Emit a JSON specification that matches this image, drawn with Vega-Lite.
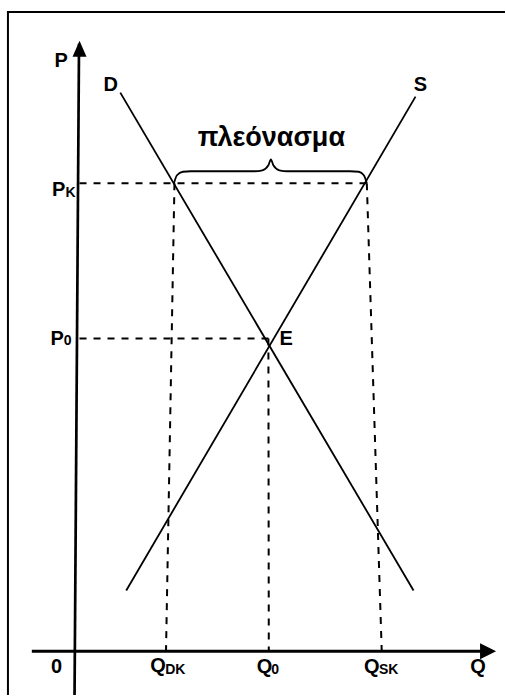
{
  "$schema": "https://vega.github.io/schema/vega-lite/v6.json",
  "width": 506,
  "height": 697,
  "autosize": {"type": "fit", "contains": "padding"},
  "padding": 0,
  "background": "white",
  "view": {"stroke": null},
  "config": {"text": {"font": "Liberation Sans", "fontWeight": "bold", "color": "black"}},
  "datasets": {
    "frame": [
      {"q1": -17, "p1": -11, "q2": -17, "p2": 160.5},
      {"q1": -17.25, "p1": 160.5, "q2": 108, "p2": 160.5}
    ],
    "yaxis": [{"q1": 0.875, "p1": 152.5, "q2": -0.25, "p2": -11}],
    "xaxis": [{"q1": -11, "p1": 0, "q2": 103, "p2": 0}],
    "curves": [
      {"name": "D", "q1": 11.25, "p1": 140.25, "q2": 85, "p2": 15.25},
      {"name": "S", "q1": 12.75, "p1": 15.25, "q2": 85.5, "p2": 139.25}
    ],
    "guides": [
      {"name": "PK", "q1": 1, "p1": 117.5, "q2": 73.25, "p2": 117.5},
      {"name": "P0", "q1": 1, "p1": 78.5, "q2": 48.5, "p2": 78.5},
      {"name": "QDK", "q1": 24.875, "p1": 117.5, "q2": 22.75, "p2": 0},
      {"name": "Q0", "q1": 48.5, "p1": 78.5, "q2": 48.6, "p2": 0},
      {"name": "QSK", "q1": 73.25, "p1": 117.5, "q2": 77, "p2": 0}
    ],
    "arrows": [
      {"dir": "up", "q": 1, "p": 151.25},
      {"dir": "right", "q": 103.75, "p": 0}
    ],
    "brace": [
      {"q": 24.75, "p": 117.5},
      {"q": 25.5, "p": 119.5},
      {"q": 27, "p": 120.375},
      {"q": 29, "p": 120.5},
      {"q": 45, "p": 120.5},
      {"q": 47, "p": 120.75},
      {"q": 48.5, "p": 122},
      {"q": 49.125, "p": 123.5},
      {"q": 49.75, "p": 122},
      {"q": 51.25, "p": 120.75},
      {"q": 53.25, "p": 120.5},
      {"q": 69, "p": 120.5},
      {"q": 71.25, "p": 120.375},
      {"q": 72.5, "p": 119.5},
      {"q": 73.25, "p": 117.5}
    ],
    "labels": [
      {"t": "P", "q": -3.625, "p": 146.75},
      {"t": "D", "q": 8.875, "p": 140.75},
      {"t": "S", "q": 86.75, "p": 140.75},
      {"t": "E", "q": 53, "p": 77},
      {"t": "P", "q": -4.25, "p": 114.25},
      {"t": "P", "q": -4.625, "p": 77},
      {"t": "0", "q": -4.75, "p": -5.5},
      {"t": "Q", "q": 20.75, "p": -5.25},
      {"t": "Q", "q": 47.5, "p": -5.5},
      {"t": "Q", "q": 74.5, "p": -5.5},
      {"t": "Q", "q": 101.25, "p": -5.5}
    ],
    "subs": [
      {"t": "K", "q": -1.25, "p": 114},
      {"t": "0", "q": -2, "p": 77},
      {"t": "DK", "q": 25.1, "p": -5.75},
      {"t": "0", "q": 50.2, "p": -5.75},
      {"t": "SK", "q": 78.75, "p": -5.75}
    ],
    "title": [{"t": "πλεόνασμα", "q": 49.25, "p": 126.75}]
  },
  "layer": [
    {
      "data": {"name": "frame"},
      "mark": {"type": "rule", "color": "black", "strokeWidth": 2},
      "encoding": {
        "x": {"field": "q1", "type": "quantitative", "scale": {"domain": [-19, 107.5], "nice": false, "zero": false}, "axis": null},
        "y": {"field": "p1", "type": "quantitative", "scale": {"domain": [-10.75, 163.5], "nice": false, "zero": false}, "axis": null},
        "x2": {"field": "q2"},
        "y2": {"field": "p2"}
      }
    },
    {
      "data": {"name": "yaxis"},
      "mark": {"type": "rule", "color": "black", "strokeWidth": 2.7},
      "encoding": {
        "x": {"field": "q1", "type": "quantitative", "axis": null},
        "y": {"field": "p1", "type": "quantitative", "axis": null},
        "x2": {"field": "q2"},
        "y2": {"field": "p2"}
      }
    },
    {
      "data": {"name": "xaxis"},
      "mark": {"type": "rule", "color": "black", "strokeWidth": 3},
      "encoding": {
        "x": {"field": "q1", "type": "quantitative", "axis": null},
        "y": {"field": "p1", "type": "quantitative", "axis": null},
        "x2": {"field": "q2"},
        "y2": {"field": "p2"}
      }
    },
    {
      "data": {"name": "guides"},
      "mark": {"type": "rule", "color": "black", "strokeWidth": 2, "strokeDash": [7, 7]},
      "encoding": {
        "x": {"field": "q1", "type": "quantitative", "axis": null},
        "y": {"field": "p1", "type": "quantitative", "axis": null},
        "x2": {"field": "q2"},
        "y2": {"field": "p2"}
      }
    },
    {
      "data": {"name": "curves"},
      "mark": {"type": "rule", "color": "black", "strokeWidth": 1.8},
      "encoding": {
        "x": {"field": "q1", "type": "quantitative", "axis": null},
        "y": {"field": "p1", "type": "quantitative", "axis": null},
        "x2": {"field": "q2"},
        "y2": {"field": "p2"}
      }
    },
    {
      "data": {"name": "brace"},
      "mark": {"type": "line", "color": "black", "strokeWidth": 1.8, "interpolate": "monotone"},
      "encoding": {
        "x": {"field": "q", "type": "quantitative", "axis": null},
        "y": {"field": "p", "type": "quantitative", "axis": null}
      }
    },
    {
      "data": {"name": "arrows"},
      "mark": {"type": "point", "filled": true, "color": "black", "opacity": 1, "size": 256, "strokeWidth": 0},
      "encoding": {
        "x": {"field": "q", "type": "quantitative", "axis": null},
        "y": {"field": "p", "type": "quantitative", "axis": null},
        "shape": {"field": "dir", "type": "nominal", "legend": null, "scale": {"domain": ["up", "right"], "range": ["M0,-1L0.875,1L-0.875,1Z", "M1,0L-1,-1L-1,1Z"]}}
      }
    },
    {
      "data": {"name": "labels"},
      "mark": {"type": "text", "fontSize": 20, "align": "center", "baseline": "alphabetic"},
      "encoding": {
        "x": {"field": "q", "type": "quantitative", "axis": null},
        "y": {"field": "p", "type": "quantitative", "axis": null},
        "text": {"field": "t"}
      }
    },
    {
      "data": {"name": "subs"},
      "mark": {"type": "text", "fontSize": 14, "align": "center", "baseline": "alphabetic"},
      "encoding": {
        "x": {"field": "q", "type": "quantitative", "axis": null},
        "y": {"field": "p", "type": "quantitative", "axis": null},
        "text": {"field": "t"}
      }
    },
    {
      "data": {"name": "title"},
      "mark": {"type": "text", "fontSize": 27, "align": "center", "baseline": "alphabetic"},
      "encoding": {
        "x": {"field": "q", "type": "quantitative", "axis": null},
        "y": {"field": "p", "type": "quantitative", "axis": null},
        "text": {"field": "t"}
      }
    }
  ]
}
